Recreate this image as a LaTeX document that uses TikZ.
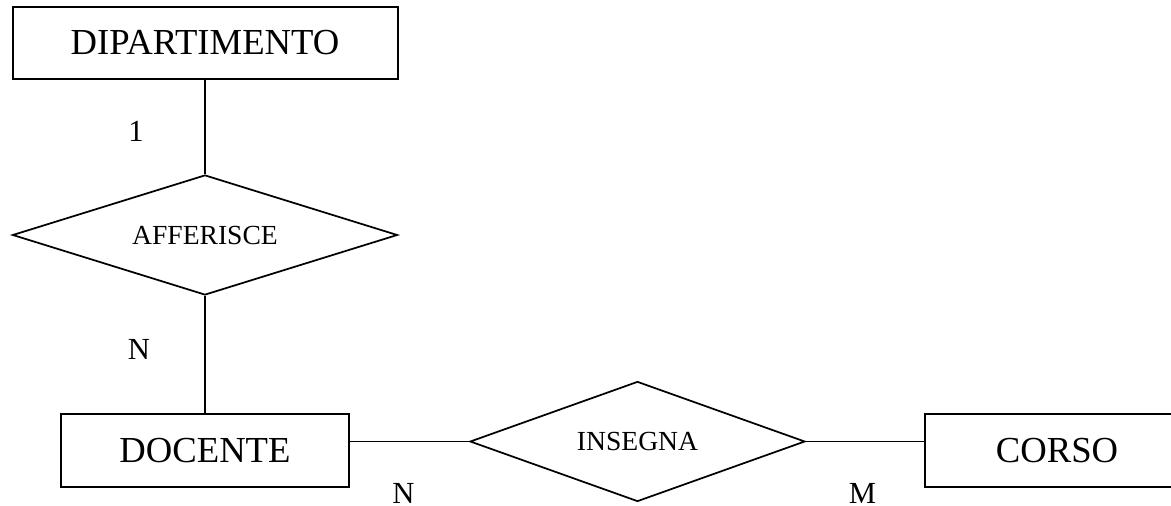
\documentclass[tikz,border=0pt]{standalone}
\usepackage{fontspec}
\setmainfont{Liberation Serif}
\usetikzlibrary{shapes.geometric}

\begin{document}
\begin{tikzpicture}[x=0.75pt,y=-0.75pt,
    entity/.style={draw,line width=1.5pt,minimum width=216pt,minimum height=54.75pt,inner sep=0pt,font=\fontsize{27.5}{33}\selectfont},
    relation/.style={draw,diamond,line width=1.3pt,inner sep=0pt,minimum height=90pt,font=\fontsize{20.7}{25}\selectfont},
    card/.style={anchor=base,inner sep=0pt,font=\fontsize{23}{28}\selectfont},
    link/.style={line width=1.3pt}]
    \useasboundingbox (0,0) rectangle (1171,506);
    % Draw entities
    \node[entity,minimum width=288.75pt,minimum height=54pt] (dipartimento) at (205,43) {DIPARTIMENTO};
    \node[entity] (docente) at (205,450.5) {DOCENTE};
    \node[entity,minimum width=198pt] (corso) at (1057,450.5) {CORSO};
    % Draw relations
    \node[relation,aspect=3.2,minimum width=288.75pt] (afferisce) at (205,235) {AFFERISCE};
    \node[relation,aspect=2.8,minimum width=251.25pt] (insegna) at (637.5,441.5) {INSEGNA};
    % Draw links
    \draw[link] (dipartimento) -- (afferisce); % 1
    \draw[link] (afferisce) -- (docente); % N
    \draw[link] (insegna.west) -- (insegna.west -| docente.east);
    \draw[link] (insegna.east) -- (insegna.east -| corso.west);
    % Cardinalities
    \node[card] (card1) at (136,142) {1};
    \node[card] (cardN1) at (139,359) {N};
    \node[card] (cardN2) at (403.5,503) {N};
    \node[card] (cardM) at (862.5,503) {M};
\end{tikzpicture}
\end{document}
